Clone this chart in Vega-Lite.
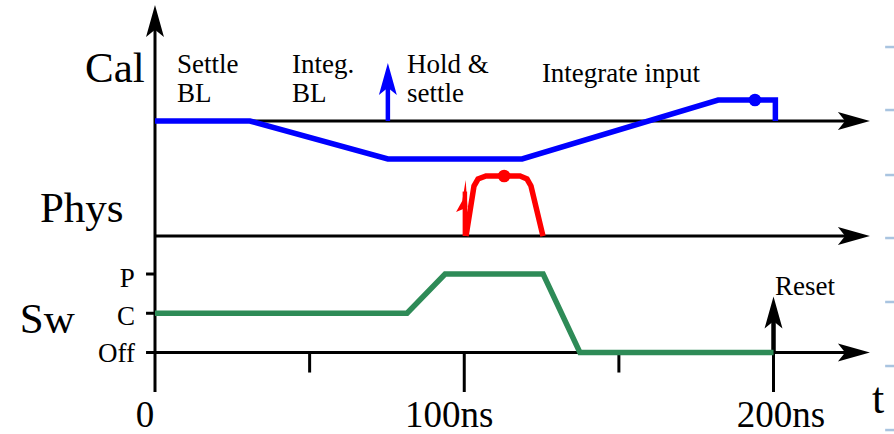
{
  "$schema": "https://vega.github.io/schema/vega-lite/v6.json",
  "width": 894,
  "height": 434,
  "autosize": {"type": "none"},
  "padding": 0,
  "background": "white",
  "config": {"view": {"stroke": null}},
  "datasets": {
    "grid": [
      {"x": 236.1, "x2": 239, "y": 7.783},
      {"x": 236.1, "x2": 239, "y": 6.178},
      {"x": 236.1, "x2": 239, "y": 4.522},
      {"x": 236.1, "x2": 239, "y": 2.917},
      {"x": 236.1, "x2": 239, "y": 1.287},
      {"x": 236.1, "x2": 239, "y": -0.344},
      {"x": 236.1, "x2": 239, "y": -1.975}
    ],
    "axes": [
      {"x": 0, "x2": 226, "y": 5.898, "y2": 5.898},
      {"x": 0, "x2": 226, "y": 2.968, "y2": 2.968},
      {"x": 0, "x2": 226, "y": 0, "y2": 0},
      {"x": 0, "x2": 0, "y": -1.006, "y2": 8.446},
      {"x": 50, "x2": 50, "y": -0.51, "y2": 0},
      {"x": 100, "x2": 100, "y": -1.006, "y2": 0},
      {"x": 150, "x2": 150, "y": -0.51, "y2": 0},
      {"x": 200, "x2": 200, "y": -1.006, "y2": 0},
      {"x": -2.9, "x2": 0, "y": 0, "y2": 0},
      {"x": -2.9, "x2": 0, "y": 1, "y2": 1},
      {"x": -2.9, "x2": 0, "y": 2, "y2": 2}
    ],
    "shafts": [
      {"signal": "Cal", "x": 75.3, "x2": 75.3, "y": 5.898, "y2": 6.968},
      {"signal": "Phys", "x": 100.2, "x2": 100.2, "y": 2.968, "y2": 4.1},
      {"signal": "axis", "x": 200, "x2": 200, "y": 0, "y2": 1.019}
    ],
    "lines": [
      {"signal": "Cal", "o": 1, "x": 0, "y": 5.898},
      {"signal": "Cal", "o": 2, "x": 30.7, "y": 5.898},
      {"signal": "Cal", "o": 3, "x": 75.3, "y": 4.93},
      {"signal": "Cal", "o": 4, "x": 118.7, "y": 4.93},
      {"signal": "Cal", "o": 5, "x": 182.1, "y": 6.433},
      {"signal": "Cal", "o": 6, "x": 200.6, "y": 6.433},
      {"signal": "Cal", "o": 7, "x": 200.6, "y": 5.898},
      {"signal": "Phys", "o": 1, "x": 100.57, "y": 2.968},
      {"signal": "Phys", "o": 2, "x": 103.15, "y": 4.242},
      {"signal": "Phys", "o": 3, "x": 104.45, "y": 4.42},
      {"signal": "Phys", "o": 4, "x": 107.03, "y": 4.497},
      {"signal": "Phys", "o": 5, "x": 118.03, "y": 4.497},
      {"signal": "Phys", "o": 6, "x": 120.29, "y": 4.42},
      {"signal": "Phys", "o": 7, "x": 121.58, "y": 4.242},
      {"signal": "Phys", "o": 8, "x": 125.46, "y": 2.968},
      {"signal": "Sw", "o": 1, "x": 0, "y": 1},
      {"signal": "Sw", "o": 2, "x": 81.5, "y": 1},
      {"signal": "Sw", "o": 3, "x": 93.8, "y": 2},
      {"signal": "Sw", "o": 4, "x": 125.5, "y": 2},
      {"signal": "Sw", "o": 5, "x": 137.4, "y": 0},
      {"signal": "Sw", "o": 6, "x": 200, "y": 0}
    ],
    "heads": [
      {"signal": "axis", "dir": "right", "x": 226, "y": 5.898},
      {"signal": "axis", "dir": "right", "x": 226, "y": 2.968},
      {"signal": "axis", "dir": "right", "x": 226, "y": 0},
      {"signal": "axis", "dir": "up", "x": 0, "y": 8.446},
      {"signal": "Cal", "dir": "up", "x": 75.3, "y": 6.968},
      {"signal": "axis", "dir": "up", "x": 200, "y": 1.019},
      {"signal": "Phys", "dir": "harpoon", "x": 100.2, "y": 3.987}
    ],
    "dots": [
      {"signal": "Cal", "x": 194.0, "y": 6.433},
      {"signal": "Phys", "x": 112.9, "y": 4.497}
    ],
    "labels": [
      {"kind": "big", "text": "Cal", "x": -22.6, "y": 6.892},
      {"kind": "big", "text": "Phys", "x": -37.2, "y": 3.325},
      {"kind": "big", "text": "Sw", "x": -43.7, "y": 0.497},
      {"kind": "t", "text": "t", "x": 233.8, "y": -1.541},
      {"kind": "tick", "text": "0", "x": -3.2, "y": -1.898},
      {"kind": "tick", "text": "100ns", "x": 95.1, "y": -1.898},
      {"kind": "tick", "text": "200ns", "x": 202.4, "y": -1.898},
      {"kind": "note", "text": "Settle", "x": 7.1, "y": 7.121},
      {"kind": "note", "text": "BL", "x": 7.1, "y": 6.382},
      {"kind": "note", "text": "Integ.", "x": 44.3, "y": 7.121},
      {"kind": "note", "text": "BL", "x": 44.3, "y": 6.382},
      {"kind": "note", "text": "Hold &", "x": 81.5, "y": 7.121},
      {"kind": "note", "text": "settle", "x": 81.5, "y": 6.382},
      {"kind": "note", "text": "Integrate input", "x": 125.1, "y": 6.892},
      {"kind": "note", "text": "Reset", "x": 200.5, "y": 1.465},
      {"kind": "level", "text": "P", "x": -6.5, "y": 1.669},
      {"kind": "level", "text": "C", "x": -6.5, "y": 0.701},
      {"kind": "level", "text": "Off", "x": -6.5, "y": -0.242}
    ]
  },
  "encoding": {
    "x": {"field": "x", "type": "quantitative", "scale": {"domain": [-50.12, 238.96], "nice": false, "zero": false}, "axis": null},
    "y": {"field": "y", "type": "quantitative", "scale": {"domain": [-2.076, 8.981], "nice": false, "zero": false}, "axis": null}
  },
  "layer": [
    {
      "data": {"name": "grid"},
      "mark": {"type": "rule", "color": "#a9c4e0", "strokeWidth": 2.5},
      "encoding": {"x2": {"field": "x2"}}
    },
    {
      "data": {"name": "axes"},
      "mark": {"type": "rule", "color": "#000000", "strokeWidth": 3},
      "encoding": {"x2": {"field": "x2"}, "y2": {"field": "y2"}}
    },
    {
      "data": {"name": "shafts"},
      "mark": {"type": "rule", "strokeWidth": 4.5},
      "encoding": {
        "x2": {"field": "x2"},
        "y2": {"field": "y2"},
        "color": {"field": "signal", "type": "nominal", "scale": {"domain": ["axis", "Cal", "Phys", "Sw"], "range": ["#000000", "#0000ff", "#ff0000", "#2e8b57"]}, "legend": null}
      }
    },
    {
      "data": {"name": "lines"},
      "mark": {"type": "line", "strokeWidth": 5.5, "strokeJoin": "miter"},
      "encoding": {
        "order": {"field": "o", "type": "quantitative"},
        "color": {"field": "signal", "type": "nominal", "legend": null}
      }
    },
    {
      "data": {"name": "heads"},
      "mark": {"type": "point", "filled": true, "opacity": 1, "size": 1024, "strokeWidth": 0},
      "encoding": {
        "shape": {"field": "dir", "type": "nominal", "scale": {"domain": ["right", "up", "harpoon"], "range": ["M1,0L-1,-0.56L-0.55,0L-1,0.56Z", "M0,-1L0.56,1L0,0.55L-0.56,1Z", "M0.05,-1L0.16,0.7L-0.55,1L-0.16,0.3Z"]}, "legend": null},
        "color": {"field": "signal", "type": "nominal", "legend": null}
      }
    },
    {
      "data": {"name": "dots"},
      "mark": {"type": "point", "shape": "circle", "filled": true, "opacity": 1, "size": 160},
      "encoding": {
        "color": {"field": "signal", "type": "nominal", "legend": null}
      }
    },
    {
      "data": {"name": "labels"},
      "transform": [{"filter": "datum.kind == 'big'"}],
      "mark": {"type": "text", "font": "Liberation Serif", "fontSize": 43, "align": "left", "baseline": "alphabetic", "color": "#000000"},
      "encoding": {"text": {"field": "text"}}
    },
    {
      "data": {"name": "labels"},
      "transform": [{"filter": "datum.kind == 't'"}],
      "mark": {"type": "text", "font": "Liberation Serif", "fontSize": 44, "align": "center", "baseline": "alphabetic", "color": "#000000"},
      "encoding": {"text": {"field": "text"}}
    },
    {
      "data": {"name": "labels"},
      "transform": [{"filter": "datum.kind == 'tick'"}],
      "mark": {"type": "text", "font": "Liberation Serif", "fontSize": 37, "align": "center", "baseline": "alphabetic", "color": "#000000"},
      "encoding": {"text": {"field": "text"}}
    },
    {
      "data": {"name": "labels"},
      "transform": [{"filter": "datum.kind == 'note'"}],
      "mark": {"type": "text", "font": "Liberation Serif", "fontSize": 27, "align": "left", "baseline": "alphabetic", "color": "#000000"},
      "encoding": {"text": {"field": "text"}}
    },
    {
      "data": {"name": "labels"},
      "transform": [{"filter": "datum.kind == 'level'"}],
      "mark": {"type": "text", "font": "Liberation Serif", "fontSize": 27, "align": "right", "baseline": "alphabetic", "color": "#000000"},
      "encoding": {"text": {"field": "text"}}
    }
  ]
}
